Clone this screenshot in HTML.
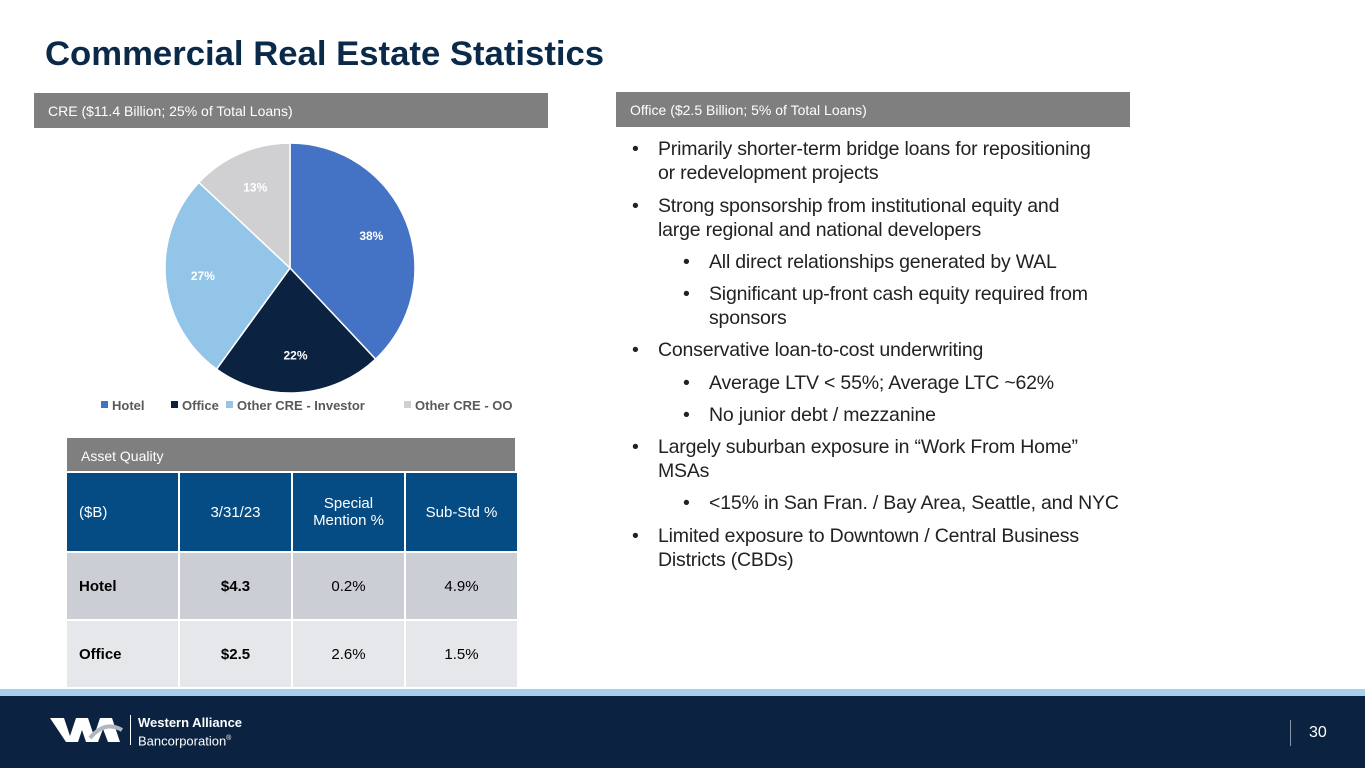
<!DOCTYPE html>
<html><head><meta charset="utf-8"><style>
*{margin:0;padding:0;box-sizing:border-box}
body{width:1365px;height:768px;position:relative;background:#fff;font-family:"Liberation Sans",sans-serif;overflow:hidden}
.abs{position:absolute}
.bar{background:#7f7f7f;color:#fff;font-size:14px;padding-left:14px;display:flex;align-items:center}
.bl{position:absolute;font-size:19.5px;color:#222;white-space:nowrap;line-height:24px;font-weight:300;letter-spacing:-0.2px}
.bl .d{position:absolute;left:-26px}
td{text-align:center;font-size:15px;border:2px solid #fff;vertical-align:middle}
</style></head><body>
<div class="abs" style="left:45px;top:35px;font-size:34.7px;font-weight:bold;color:#0b2a4a">Commercial Real Estate Statistics</div>
<div class="abs bar" style="left:34px;top:93px;width:514px;height:35px">CRE ($11.4 Billion; 25% of Total Loans)</div>
<div class="abs bar" style="left:616px;top:92px;width:514px;height:35px">Office ($2.5 Billion; 5% of Total Loans)</div>

<svg class="abs" style="left:0;top:130px" width="560" height="300" id="pie"></svg>
<script>
const categories=["Hotel","Office","Other CRE - Investor","Other CRE - OO"];
const values=[38,22,27,13];
const labels=["38%","22%","27%","13%"];
const colors=["#4472c4","#0b2340","#93c5e8","#d0d0d3"];
const svg=document.getElementById('pie');const NS="http://www.w3.org/2000/svg";
const cx=290,cy=138,r=125;const total=values.reduce((a,b)=>a+b,0);
let a0=0;
values.forEach((v,i)=>{
 const a1=a0+v/total*2*Math.PI;
 const p=t=>[cx+r*Math.sin(t),cy-r*Math.cos(t)];
 const [x0,y0]=p(a0),[x1,y1]=p(a1);
 const path=document.createElementNS(NS,'path');
 path.setAttribute('d',`M${cx},${cy}L${x0},${y0}A${r},${r} 0 ${a1-a0>Math.PI?1:0} 1 ${x1},${y1}Z`);
 path.setAttribute('fill',colors[i]);path.setAttribute('stroke','#fff');path.setAttribute('stroke-width','1.5');
 
 
 svg.appendChild(path);
 const m=(a0+a1)/2,lr=r*0.7;
 const t=document.createElementNS(NS,'text');
 t.setAttribute('x',cx+lr*Math.sin(m));t.setAttribute('y',cy-lr*Math.cos(m)+4);
 t.setAttribute('text-anchor','middle');t.setAttribute('fill','#fff');t.setAttribute('font-size','12');t.setAttribute('font-weight','bold');
 t.setAttribute('font-family','Liberation Sans, sans-serif');
 t.textContent=labels[i];
 
 
 svg.appendChild(t);
 a0=a1;
});
const lx=[101,171,226,404];
categories.forEach((c,i)=>{
 const rect=document.createElementNS(NS,'rect');
 rect.setAttribute('x',lx[i]);rect.setAttribute('y',271);rect.setAttribute('width',7);rect.setAttribute('height',7);rect.setAttribute('fill',colors[i]);
 
 
 svg.appendChild(rect);
 const t=document.createElementNS(NS,'text');
 t.setAttribute('x',lx[i]+11);t.setAttribute('y',280);t.setAttribute('fill','#595959');t.setAttribute('font-size','13');t.setAttribute('font-weight','bold');
 t.setAttribute('font-family','Liberation Sans, sans-serif');
 t.textContent=c;
 
 
 svg.appendChild(t);
});
</script>

<div class="abs bar" style="left:67px;top:438px;width:448px;height:35px">Asset Quality</div>
<table class="abs" style="left:65px;top:471px;width:452px;height:216px;border-collapse:collapse;table-layout:fixed">
<colgroup><col style="width:113px"><col style="width:113px"><col style="width:113px"><col style="width:113px"></colgroup>
<tr style="background:#054c85;color:#fff;height:80px"><td style="text-align:left;padding-left:12px">($B)</td><td>3/31/23</td><td>Special<br>Mention %</td><td>Sub-Std %</td></tr>
<tr style="background:#ccced6;height:68px"><td style="text-align:left;padding-left:12px;font-weight:bold">Hotel</td><td style="font-weight:bold">$4.3</td><td>0.2%</td><td>4.9%</td></tr>
<tr style="background:#e6e7ea;height:68px"><td style="text-align:left;padding-left:12px;font-weight:bold">Office</td><td style="font-weight:bold">$2.5</td><td>2.6%</td><td>1.5%</td></tr>
</table>

<div>
<div class="bl" style="left:658px;top:137px"><span class="d">•</span>Primarily shorter-term bridge loans for repositioning<br>or redevelopment projects</div>
<div class="bl" style="left:658px;top:194px"><span class="d">•</span>Strong sponsorship from institutional equity and<br>large regional and national developers</div>
<div class="bl" style="left:709px;top:250px"><span class="d">•</span>All direct relationships generated by WAL</div>
<div class="bl" style="left:709px;top:282px"><span class="d">•</span>Significant up-front cash equity required from<br>sponsors</div>
<div class="bl" style="left:658px;top:338px"><span class="d">•</span>Conservative loan-to-cost underwriting</div>
<div class="bl" style="left:709px;top:371px"><span class="d">•</span>Average LTV &lt; 55%; Average LTC ~62%</div>
<div class="bl" style="left:709px;top:403px"><span class="d">•</span>No junior debt / mezzanine</div>
<div class="bl" style="left:658px;top:435px"><span class="d">•</span>Largely suburban exposure in “Work From Home”<br>MSAs</div>
<div class="bl" style="left:709px;top:491px"><span class="d">•</span>&lt;15% in San Fran. / Bay Area, Seattle, and NYC</div>
<div class="bl" style="left:658px;top:524px"><span class="d">•</span>Limited exposure to Downtown / Central Business<br>Districts (CBDs)</div>
</div>

<div class="abs" style="left:0;top:689px;width:1365px;height:7px;background:#a9d0ea"></div>
<div class="abs" style="left:0;top:696px;width:1365px;height:72px;background:#0b2340">
<svg class="abs" style="left:50px;top:20px" width="76" height="30">
<polygon points="0,2 14,2 20,20 26,2 38,2 44,20 50,2 62,2 70,26 58,26 53,13 48,26 36,26 32,14 28,26 16,26" fill="#fff"/>
<path d="M40,22 Q55,4 72,14" stroke="#b0b7c0" stroke-width="4" fill="none"/>
</svg>
<div class="abs" style="left:130px;top:19px;width:1px;height:30px;background:#fff"></div>
<div class="abs" style="left:138px;top:19px;color:#fff;font-size:13px;line-height:16px"><b>Western Alliance</b><br>Bancorporation<sup style="font-size:7px">®</sup></div>
<div class="abs" style="left:1290px;top:24px;width:1px;height:26px;background:#8a95a5"></div>
<div class="abs" style="left:1309px;top:28px;color:#fff;font-size:16px">30</div>
</div>
</body></html>
